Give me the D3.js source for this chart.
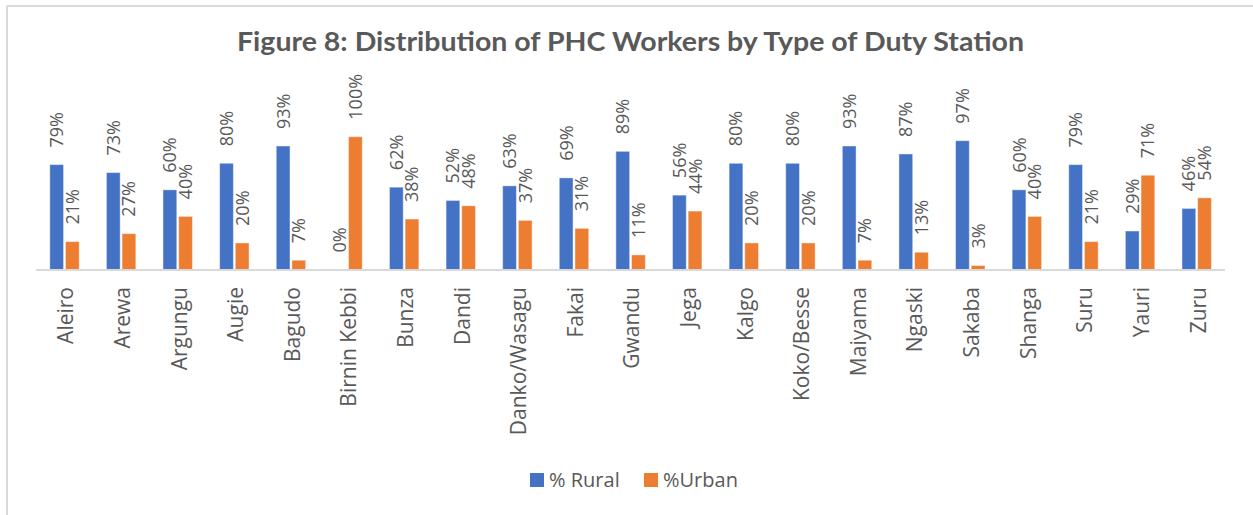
<!DOCTYPE html>
<html>
<head>
<meta charset="utf-8">
<script src="https://cdn.jsdelivr.net/npm/d3@7"></script>
<style>
  body { margin: 0; background: #fff; }
  text { font-family: "Open Sans", sans-serif; fill: #595959; }
</style>
</head>
<body>
<div id="chart"></div>
<script>
var w = 1253, h = 515;

// data
var districts = ["Aleiro", "Arewa", "Argungu", "Augie", "Bagudo", "Birnin Kebbi", "Bunza", "Dandi",
    "Danko/Wasagu", "Fakai", "Gwandu", "Jega", "Kalgo", "Koko/Besse", "Maiyama", "Ngaski",
    "Sakaba", "Shanga", "Suru", "Yauri", "Zuru"];
var rural = [79, 73, 60, 80, 93, 0, 62, 52, 63, 69, 89, 56, 80, 80, 93, 87, 97, 60, 79, 29, 46];
var urban = [21, 27, 40, 20, 7, 100, 38, 48, 37, 31, 11, 44, 20, 20, 7, 13, 3, 40, 21, 71, 54];
var seriesNames = ["% Rural", "%Urban"];
var colors = ["#4472C4", "#ED7D31"];
var title = "Figure 8: Distribution of PHC Workers by Type of Duty Station";

var rows = districts.map(function (d, i) {
    return { name: d, values: [rural[i], urban[i]] };
});

var svg = d3.select("#chart").append("svg")
    .attr("width", w)
    .attr("height", h);

// chart frame (only left and top edges show in the crop)
svg.append("line").attr("x1", 7).attr("y1", 6).attr("x2", w).attr("y2", 6)
    .attr("stroke", "#d9d9d9").attr("stroke-width", 2);
svg.append("line").attr("x1", 7).attr("y1", 6).attr("x2", 7).attr("y2", h)
    .attr("stroke", "#d9d9d9").attr("stroke-width", 2);

// title
svg.append("text")
    .attr("x", 630.5)
    .attr("y", 51)
    .attr("text-anchor", "middle")
    .attr("textLength", 787)
    .attr("lengthAdjust", "spacingAndGlyphs")
    .style("font-family", "Lato, 'Open Sans', sans-serif")
    .style("font-weight", 700)
    .style("font-size", "26px")
    .text(title);

var x0 = d3.scaleBand()
    .domain(districts)
    .range([36.2, 1225])
    .paddingInner(0.48)
    .paddingOuter(0.24);

var x1 = d3.scaleBand()
    .domain([0, 1])
    .range([0, x0.bandwidth()])
    .paddingInner(0.12);

var y = d3.scaleLinear()
    .domain([0, 100])
    .range([269.5, 136.7]);

var groups = svg.selectAll("g.district")
    .data(rows)
    .enter().append("g")
    .attr("class", "district")
    .attr("transform", function (d) { return "translate(" + x0(d.name) + ",0)"; });

var bars = groups.selectAll("g.bar")
    .data(function (d) { return d.values.map(function (v, k) { return { k: k, v: v }; }); })
    .enter().append("g")
    .attr("class", "bar");

bars.filter(function (d) { return d.v > 0; })
    .append("rect")
    .attr("x", function (d) { return x1(d.k); })
    .attr("width", x1.bandwidth())
    .attr("y", function (d) { return y(d.v); })
    .attr("height", function (d) { return y(0) - y(d.v); })
    .attr("fill", function (d) { return colors[d.k]; })
    .attr("stroke", "#ffffff")
    .attr("stroke-opacity", 0.45)
    .attr("stroke-width", 1);

// rotated value labels above each bar
bars.append("text")
    .attr("transform", function (d) {
        return "translate(" + (x1(d.k) + x1.bandwidth() / 2) + "," + (y(d.v) - 17) + ") rotate(-90)";
    })
    .attr("dy", "0.36em")
    .style("font-size", "18px")
    .text(function (d) { return d.v + "%"; });

// x axis
var xAxis = d3.axisBottom(x0).tickSize(0).tickPadding(0);
var gx = svg.append("g")
    .attr("transform", "translate(0," + 270 + ")")
    .call(xAxis);
gx.select(".domain").attr("stroke", "#d9d9d9").attr("stroke-width", 2)
    .attr("d", "M36.2,0H1225");
gx.selectAll(".tick text")
    .attr("transform", "rotate(-90)")
    .attr("x", -17)
    .attr("y", 0)
    .attr("dy", "0.42em")
    .attr("text-anchor", "end")
    .style("font-family", "'Open Sans', sans-serif")
    .style("font-size", "21px")
    .attr("fill", "#595959");

// legend
var legend = svg.append("g").attr("transform", "translate(530,473)");
var legendX = [0, 114];
seriesNames.forEach(function (s, k) {
    legend.append("rect")
        .attr("x", legendX[k]).attr("y", 0)
        .attr("width", 14).attr("height", 14)
        .attr("fill", colors[k]);
    legend.append("text")
        .attr("x", legendX[k] + 19).attr("y", 7)
        .attr("dy", "0.35em")
        .style("font-size", "20px")
        .text(s);
});
</script>
</body>
</html>
